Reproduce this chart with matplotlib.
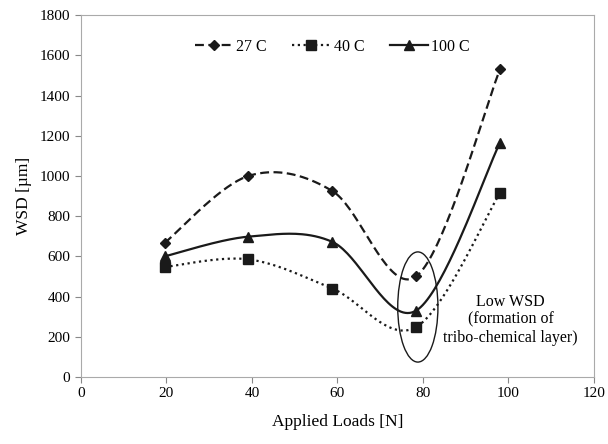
import numpy as np
import matplotlib.pyplot as plt
from matplotlib.patches import Ellipse

plt.rcParams['font.family'] = ['Liberation Serif', 'DejaVu Serif']

# data
loads = [19.6, 39.2, 58.8, 78.4, 98.0]
wsd_27 = [667, 1000, 925, 500, 1530]
wsd_40 = [547, 585, 440, 248, 915]
wsd_100 = [600, 698, 672, 330, 1165]
labels = ['27 C', '40 C', '100 C']


# Excel-like smoothed line (cubic bezier through the points)
def smooth(x, y, n=40):
    p = np.column_stack([x, y]).astype(float)
    out = []
    for i in range(len(p) - 1):
        p0 = p[i - 1] if i > 0 else p[i]
        p1, p2 = p[i], p[i + 1]
        p3 = p[i + 2] if i + 2 < len(p) else p[i + 1]
        c1 = p1 + (p2 - p0) / 6
        c2 = p2 - (p3 - p1) / 6
        t = np.linspace(0, 1, n)[:, None]
        seg = ((1 - t) ** 3) * p1 + 3 * ((1 - t) ** 2) * t * c1 + 3 * (1 - t) * t ** 2 * c2 + t ** 3 * p2
        out.append(seg if i == 0 else seg[1:])
    s = np.vstack(out)
    return s[:, 0], s[:, 1]


fig = plt.figure(figsize=(6.08, 4.44), dpi=100)
ax = fig.add_axes([0.133, 0.151, 0.844, 0.815])

col = '#1a1a1a'
styles = [
    (wsd_27, (0, (4, 2)), 'D', 5),
    (wsd_40, (0, (1, 1.6)), 's', 7),
    (wsd_100, '-', '^', 7),
]
for (vals, ls, mk, ms), lab in zip(styles, labels):
    sx, sy = smooth(loads, vals)
    ax.plot(sx, sy, color=col, lw=1.6, ls=ls)
    ax.plot(loads, vals, ls='none', marker=mk, ms=ms, color=col)
    ax.plot([], [], color=col, lw=1.6, ls=ls, marker=mk, ms=ms, label=lab)

ax.add_patch(Ellipse((78.8, 348), 9.4, 548, fill=False, ec=col, lw=1.0))
ax.text(100.5, 284, 'Low WSD\n(formation of\ntribo-chemical layer)',
        ha='center', va='center', fontsize=11.5, linespacing=1.15)

ax.set_xlim(0, 120)
ax.set_ylim(0, 1800)
ax.set_xticks(np.arange(0, 121, 20))
ax.set_yticks(np.arange(0, 1801, 200))
ax.set_xlabel('Applied Loads [N]', fontsize=12.5, labelpad=10)
ax.set_ylabel('WSD [µm]', fontsize=12.5, labelpad=6)
ax.tick_params(labelsize=11, color='#888888', length=4)
for s in ax.spines.values():
    s.set_color('#aaaaaa')

ax.legend(loc='upper center', bbox_to_anchor=(0.49, 0.975), ncol=3, frameon=False,
          fontsize=11.5, handlelength=2.4, columnspacing=1.6, handletextpad=0.2)

fig.savefig('out.png', dpi=100)
